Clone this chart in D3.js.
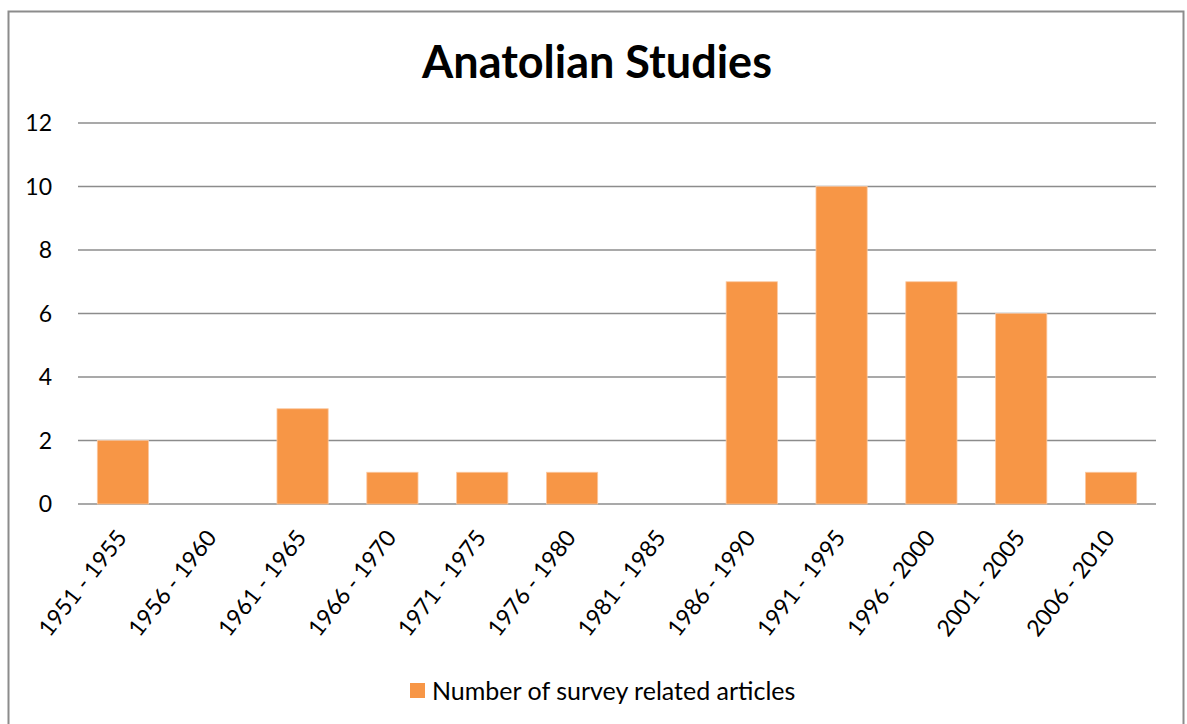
<!DOCTYPE html>
<html>
<head>
<meta charset="utf-8">
<script src="https://cdn.jsdelivr.net/npm/d3@7"></script>
<style>
  body { margin: 0; background: #fff; }
  text { font-family: Lato, "Open Sans", sans-serif; fill: #000; }
</style>
</head>
<body>
<svg id="chart" width="1187" height="724"></svg>
<script>
var periods = ['1951 - 1955', '1956 - 1960', '1961 - 1965', '1966 - 1970', '1971 - 1975', '1976 - 1980',
               '1981 - 1985', '1986 - 1990', '1991 - 1995', '1996 - 2000', '2001 - 2005', '2006 - 2010'];
var articles = [2, 0, 3, 1, 1, 1, 0, 7, 10, 7, 6, 1];
var yTicks = [0, 2, 4, 6, 8, 10, 12];
var seriesName = 'Number of survey related articles';
var chartTitle = 'Anatolian Studies';

var BAR_COLOR = '#F79646';
var GRID_COLOR = '#8c8c8c';

var svg = d3.select('#chart');

// outer frame
svg.append('rect')
  .attr('x', 8.5).attr('y', 11.5)
  .attr('width', 1175).attr('height', 730)
  .attr('fill', 'none')
  .attr('stroke', '#8c8c8c')
  .attr('stroke-width', 2);

var plotLeft = 78, plotRight = 1156, plotTop = 123, plotBottom = 504;

var x = d3.scaleBand()
  .domain(periods)
  .range([plotLeft, plotRight])
  .paddingInner(0.43)
  .paddingOuter(0.215);

var y = d3.scaleLinear()
  .domain([0, 12])
  .range([plotBottom, plotTop]);

// gridlines
svg.selectAll('.grid')
  .data(yTicks)
  .enter()
  .append('line')
  .attr('class', 'grid')
  .attr('x1', plotLeft).attr('x2', plotRight)
  .attr('y1', d => y(d)).attr('y2', d => y(d))
  .attr('stroke', GRID_COLOR)
  .attr('stroke-width', 1.5);

// y labels
svg.selectAll('.ylab')
  .data(yTicks)
  .enter()
  .append('text')
  .attr('class', 'ylab')
  .attr('x', 52)
  .attr('y', d => y(d))
  .attr('dy', '0.36em')
  .attr('text-anchor', 'end')
  .style('font-size', '23px')
  .text(d => d);

// bars
svg.selectAll('.bar')
  .data(articles)
  .enter()
  .append('rect')
  .attr('class', 'bar')
  .attr('x', (d, i) => x(periods[i]))
  .attr('y', d => y(d))
  .attr('width', x.bandwidth())
  .attr('height', d => plotBottom - y(d))
  .attr('fill', BAR_COLOR)
  .attr('stroke', '#fbc8a0')
  .attr('stroke-width', 0.8);

// x labels rotated
svg.selectAll('.xlab')
  .data(periods)
  .enter()
  .append('text')
  .attr('class', 'xlab')
  .attr('transform', d => 'translate(' + (x(d) + x.bandwidth() / 2 + 5) + ',' + (plotBottom + 34) + ') rotate(-52)')
  .attr('text-anchor', 'end')
  .style('font-size', '23px')
  .text(d => d);

// title
svg.append('text')
  .attr('x', 597)
  .attr('y', 78)
  .attr('text-anchor', 'middle')
  .style('font-size', '45px')
  .style('font-weight', 'bold')
  .text(chartTitle);

// legend
var legend = svg.append('g').attr('transform', 'translate(410,683)');
legend.append('rect')
  .attr('width', 15).attr('height', 15)
  .attr('fill', BAR_COLOR);
legend.append('text')
  .attr('x', 22)
  .attr('y', 8)
  .attr('dy', '0.36em')
  .style('font-size', '25px')
  .text(seriesName);
</script>
</body>
</html>
